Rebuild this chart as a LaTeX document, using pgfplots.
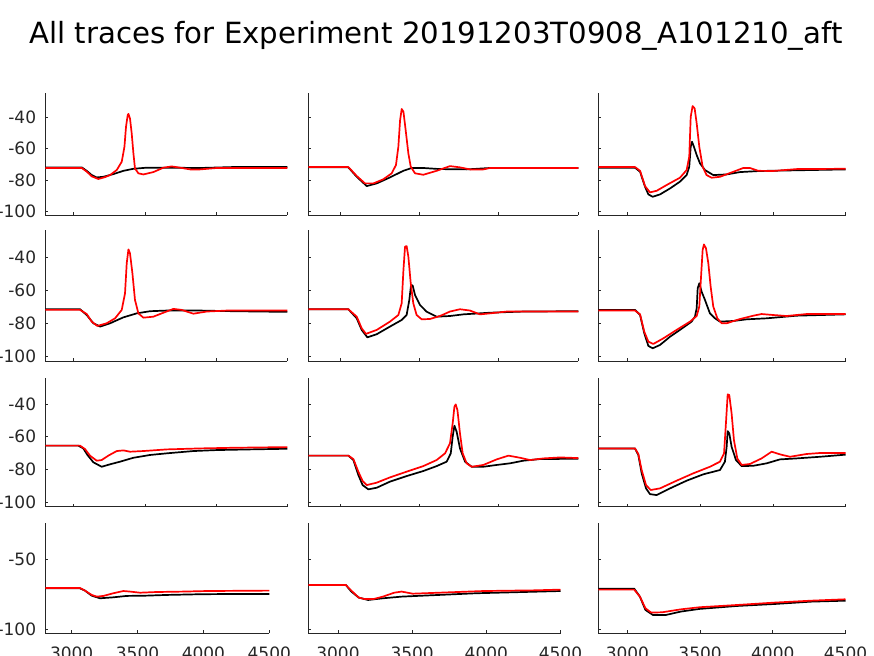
\documentclass[border=0pt]{standalone}
\usepackage{fontspec}
\setmainfont{DejaVu Sans}
\usepackage{pgfplots}
\pgfplotsset{compat=1.18}
\definecolor{axc}{HTML}{262626}
\definecolor{tred}{HTML}{FF0000}
\newcommand{\ticfont}{\fontsize{17bp}{20bp}\selectfont}
\newcommand{\titfont}{\fontsize{29.2bp}{34bp}\selectfont}
\pgfplotsset{
  panel/.style={scale only axis, anchor=south west,
    xmin=2800, xmax=4500,
    axis x line*=bottom, axis y line*=left,
    axis line style={draw=axc, line width=0.8bp},
    tick style={draw=axc, line width=0.8bp},
    major tick length=3bp, tick align=inside,
    xtick={3000,3500,4000,4500}, xticklabels={}, yticklabels={},
    ticklabel style={font=\ticfont, text=axc},
    xticklabel style={anchor=north, inner sep=0pt, yshift=-13.5bp},
    yticklabel style={anchor=east, inner sep=0pt, xshift=-9bp},
  },
  rA/.style={ytick={-100,-80,-60,-40}},
  rB/.style={ytick={-100,-50}},
  ylA/.style={yticklabels={-100,-80,-60,-40}},
  ylB/.style={yticklabels={-100,-50}},
  xl/.style={xticklabels={3000,3500,4000,4500}},
  blk/.style={black, line width=1.7bp, line join=round},
  rd/.style={tred, line width=1.7bp, line join=round},
}
\begin{document}
\begin{tikzpicture}
\path[use as bounding box] (0,0) rectangle (874bp,-656bp);
\node[anchor=base, font=\titfont, text=black] at (436bp,-43.3bp) {All traces for Experiment 20191203T0908\_A101210\_aft};

% ---------------- Row 1 ----------------
\begin{axis}[panel, rA, ylA, at={(45.3bp,-215bp)}, width=242bp, height=121.7bp, ymin=-102.1, ymax=-24.7]
\addplot[blk] coordinates {(2800,-71.8)(3056,-71.8)(3091,-74)(3126,-76.7)(3161,-78.2)(3208,-77.8)(3278,-76.1)(3349,-74)(3419,-72.7)(3513,-72)(3653,-72)(3887,-72.2)(4121,-71.6)(4500,-71.6)};
\addplot[rd] coordinates {(2800,-72.2)(3056,-72.2)(3091,-74.5)(3126,-77.5)(3173,-79.2)(3220,-78)(3255,-76.7)(3302,-73.5)(3337,-68.2)(3356,-58.7)(3367,-46)(3379,-38.5)(3384,-37.8)(3395,-40.7)(3407,-50.2)(3419,-62.9)(3430,-72.5)(3454,-75.6)(3489,-76.3)(3559,-74.8)(3630,-72)(3688,-71.2)(3747,-72)(3817,-73.1)(3887,-73.1)(4004,-72.2)(4500,-72.2)};
\end{axis}
\begin{axis}[panel, rA, at={(308.3bp,-215bp)}, width=270bp, height=121.7bp, ymin=-102.1, ymax=-24.7]
\addplot[blk] coordinates {(2800,-71.8)(3052,-71.8)(3105,-77.8)(3168,-83.7)(3231,-82)(3314,-78.2)(3398,-74)(3451,-72.2)(3524,-72.2)(3629,-72.9)(3797,-73.1)(3944,-72.2)(4500,-72.2)};
\addplot[rd] coordinates {(2800,-71.6)(3052,-71.6)(3105,-77.3)(3157,-82)(3210,-82)(3272,-79.4)(3325,-75.6)(3352,-70.3)(3367,-58.7)(3378,-41.7)(3388,-34.7)(3399,-36.4)(3413,-48.1)(3430,-62.9)(3445,-71.4)(3472,-75.6)(3524,-76.5)(3608,-74)(3692,-71)(3755,-71.8)(3818,-73.1)(3902,-73.1)(3944,-72.2)(4500,-72.2)};
\end{axis}
\begin{axis}[panel, rA, at={(598.3bp,-215bp)}, width=247.4bp, height=121.7bp, ymin=-102.1, ymax=-24.7]
\addplot[blk] coordinates {(2800,-72)(3052,-72)(3087,-74.6)(3121,-84.1)(3144,-89)(3174,-90.5)(3224,-89)(3293,-85.2)(3361,-80.9)(3407,-76.7)(3425,-71.4)(3435,-58.7)(3444,-55.5)(3457,-58.7)(3476,-64)(3499,-69.3)(3533,-73.5)(3590,-76.7)(3682,-76.3)(3774,-74.8)(3911,-74.1)(4500,-73.1)};
\addplot[rd] coordinates {(2800,-71.6)(3052,-71.6)(3087,-74)(3121,-83.7)(3155,-87.7)(3201,-86.7)(3270,-83)(3361,-78.4)(3407,-73.5)(3425,-65)(3435,-39.6)(3448,-32.8)(3462,-34.3)(3476,-43.8)(3494,-58.7)(3517,-71.4)(3544,-76.7)(3579,-78.4)(3636,-77.8)(3728,-74.6)(3796,-72.2)(3842,-72.2)(3899,-74)(4002,-74.1)(4163,-72.9)(4500,-72.7)};
\end{axis}

% ---------------- Row 2 ----------------
\begin{axis}[panel, rA, ylA, at={(45.3bp,-361bp)}, width=242bp, height=131bp, ymin=-102.7, ymax=-23.5]
\addplot[blk] coordinates {(2800,-71.4)(3044,-71.4)(3091,-74.9)(3138,-79.9)(3185,-81.9)(3255,-79.9)(3349,-76.3)(3442,-73.9)(3536,-72.6)(3653,-72.2)(3887,-72.2)(4121,-72.6)(4500,-73)};
\addplot[rd] coordinates {(2800,-71.8)(3044,-71.8)(3091,-74.3)(3126,-78.9)(3166,-81.5)(3231,-79.9)(3290,-76.9)(3337,-71.8)(3360,-61.8)(3372,-43.6)(3384,-35.2)(3395,-37.6)(3412,-49.7)(3430,-65.8)(3454,-73.9)(3489,-76.5)(3559,-75.9)(3630,-73.5)(3700,-71.2)(3758,-71.8)(3840,-74.1)(3934,-72.8)(4075,-72.2)(4500,-72.2)};
\end{axis}
\begin{axis}[panel, rA, at={(308.3bp,-361bp)}, width=270bp, height=131bp, ymin=-102.7, ymax=-23.5]
\addplot[blk] coordinates {(2800,-71.4)(3052,-71.4)(3105,-76.9)(3136,-83.9)(3172,-88.4)(3231,-86.5)(3314,-81.9)(3388,-77.9)(3419,-74.9)(3436,-65.8)(3447,-56.7)(3457,-57.1)(3472,-62.8)(3503,-68.8)(3545,-72.9)(3608,-75.9)(3692,-75.5)(3776,-74.5)(3944,-73.5)(4154,-72.8)(4500,-72.6)};
\addplot[rd] coordinates {(2800,-71.4)(3052,-71.4)(3105,-75.9)(3136,-82.9)(3163,-86.3)(3231,-83.9)(3314,-78.9)(3367,-74.9)(3388,-67.8)(3399,-47.7)(3409,-33.6)(3419,-33.2)(3430,-39.6)(3445,-55.7)(3461,-67.8)(3482,-74.9)(3514,-77.5)(3566,-77.3)(3629,-75.5)(3692,-72.8)(3755,-71.4)(3818,-72.2)(3881,-74.5)(3944,-73.9)(4049,-72.8)(4500,-72.8)};
\end{axis}
\begin{axis}[panel, rA, at={(598.3bp,-361bp)}, width=247.4bp, height=131bp, ymin=-102.7, ymax=-23.5]
\addplot[blk] coordinates {(2800,-71.8)(3052,-71.8)(3087,-74.9)(3116,-86)(3144,-93.6)(3174,-95)(3224,-93)(3293,-88)(3361,-83.9)(3441,-78.9)(3464,-75.9)(3476,-70.8)(3483,-58.7)(3494,-55.7)(3510,-60.8)(3533,-65.8)(3567,-73.9)(3602,-76.9)(3636,-78.9)(3728,-78.5)(3819,-77.5)(3957,-76.9)(4163,-75.3)(4500,-74.5)};
\addplot[rd] coordinates {(2800,-72.2)(3052,-72.2)(3087,-74.5)(3116,-85)(3144,-91)(3178,-92.4)(3247,-89)(3338,-83.9)(3430,-78.9)(3476,-75.5)(3494,-69.8)(3506,-51.7)(3517,-35.6)(3526,-32.2)(3540,-34.6)(3556,-43.6)(3572,-57.7)(3590,-69.8)(3618,-76.9)(3648,-79.9)(3682,-79.9)(3774,-77.3)(3865,-75.3)(3922,-74.3)(4003,-74.9)(4094,-75.5)(4231,-74.3)(4500,-74.3)};
\end{axis}

% ---------------- Row 3 ----------------
\begin{axis}[panel, rA, ylA, at={(45.3bp,-506.7bp)}, width=242bp, height=129bp, ymin=-102.7, ymax=-23.9]
\addplot[blk] coordinates {(2800,-65.4)(3032,-65.4)(3067,-67.1)(3096,-71.1)(3138,-75.6)(3196,-78.3)(3255,-76.8)(3325,-75.2)(3419,-72.8)(3536,-71.1)(3653,-70.1)(3840,-68.7)(4004,-68.1)(4238,-67.7)(4500,-67.3)};
\addplot[rd] coordinates {(2800,-65.4)(3044,-65.4)(3079,-67.5)(3114,-71.5)(3161,-74.6)(3196,-74.2)(3243,-71.5)(3302,-68.7)(3349,-68.3)(3395,-69.1)(3489,-68.7)(3653,-67.7)(3887,-67.1)(4121,-66.7)(4500,-66.3)};
\end{axis}
\begin{axis}[panel, rA, at={(308.3bp,-506.7bp)}, width=270bp, height=129bp, ymin=-102.7, ymax=-23.9]
\addplot[blk] coordinates {(2800,-71.5)(3052,-71.5)(3084,-74.2)(3115,-83.3)(3142,-89.5)(3178,-92.1)(3231,-91.1)(3314,-87.4)(3419,-84)(3524,-80.9)(3608,-77.9)(3671,-75.2)(3697,-70.1)(3709,-59.9)(3720,-53.2)(3734,-56.9)(3755,-67.1)(3787,-75.2)(3829,-78.3)(3902,-78.3)(3986,-77.2)(4070,-76.2)(4154,-74.6)(4259,-73.6)(4500,-73.4)};
\addplot[rd] coordinates {(2800,-71.5)(3052,-71.5)(3084,-73.6)(3115,-81.3)(3142,-87)(3168,-89.5)(3231,-88)(3314,-84.8)(3419,-81.3)(3524,-77.9)(3608,-74.2)(3661,-70.1)(3692,-64)(3709,-51.8)(3720,-41.6)(3728,-40.2)(3739,-43.7)(3755,-57.9)(3772,-70.1)(3797,-76.2)(3829,-78.3)(3902,-77.2)(3986,-73.8)(4060,-71.5)(4133,-72.8)(4196,-74.2)(4280,-73.2)(4385,-72.6)(4500,-73)};
\end{axis}
\begin{axis}[panel, rA, at={(598.3bp,-506.7bp)}, width=247.4bp, height=129bp, ymin=-102.7, ymax=-23.9]
\addplot[blk] coordinates {(2800,-67.1)(3052,-67.1)(3075,-71.1)(3098,-82.3)(3128,-91.5)(3155,-95)(3201,-95.6)(3293,-91.5)(3407,-86.8)(3522,-82.9)(3636,-80.3)(3670,-75.2)(3682,-66.1)(3689,-56.5)(3700,-57.9)(3716,-66.1)(3746,-74.2)(3785,-77.9)(3865,-77.7)(3957,-76.2)(4048,-73.8)(4163,-73.2)(4323,-72.2)(4500,-70.9)};
\addplot[rd] coordinates {(2800,-67.1)(3052,-67.1)(3075,-70.5)(3098,-80.3)(3128,-89.5)(3160,-92.5)(3224,-91.5)(3338,-86.8)(3453,-82.3)(3567,-78.3)(3636,-75.2)(3664,-70.1)(3677,-51.8)(3689,-34.1)(3700,-34.5)(3716,-45.7)(3732,-62)(3755,-73.2)(3785,-77.2)(3842,-76.6)(3922,-73.2)(3991,-69.1)(4048,-70.7)(4117,-72.2)(4232,-70.5)(4323,-69.9)(4500,-69.9)};
\end{axis}

% ---------------- Row 4 ----------------
\begin{axis}[panel, rB, ylB, xl, at={(45.3bp,-633bp)}, width=224bp, height=110bp, ymin=-102.9, ymax=-24.3]
\addplot[blk] coordinates {(2800,-71)(3063,-71)(3101,-72.6)(3152,-76.2)(3215,-78.1)(3316,-77.4)(3418,-76.4)(3569,-76.2)(3721,-75.7)(3974,-75.2)(4227,-75)(4500,-75)};
\addplot[rd] coordinates {(2800,-70.7)(3063,-70.7)(3101,-72.6)(3152,-75.7)(3190,-76.9)(3241,-76.4)(3316,-74.5)(3392,-72.9)(3443,-73.3)(3519,-74.1)(3645,-73.6)(3848,-73.3)(4025,-72.9)(4500,-72.6)};
\end{axis}
\begin{axis}[panel, rB, xl, at={(308.3bp,-633bp)}, width=252.2bp, height=110bp, ymin=-102.9, ymax=-24.3]
\addplot[blk] coordinates {(2800,-68.6)(3053,-68.6)(3090,-73.3)(3140,-77.6)(3203,-79.3)(3303,-78.1)(3429,-76.9)(3680,-75.7)(3930,-74.5)(4181,-73.8)(4500,-72.9)};
\addplot[rd] coordinates {(2800,-68.6)(3053,-68.6)(3090,-72.6)(3140,-77.6)(3178,-78.6)(3241,-78.6)(3303,-76.9)(3379,-74.1)(3429,-73.3)(3504,-74.8)(3680,-74.1)(3980,-72.9)(4331,-72.4)(4500,-71.9)};
\end{axis}
\begin{axis}[panel, rB, xl, at={(598.3bp,-633bp)}, width=247.2bp, height=110bp, ymin=-102.9, ymax=-24.3]
\addplot[blk] coordinates {(2800,-71.2)(3047,-71.2)(3086,-76.9)(3124,-86.4)(3175,-90)(3265,-90)(3367,-87.6)(3495,-85.7)(3751,-83.6)(4007,-82.2)(4262,-80.5)(4500,-79.8)};
\addplot[rd] coordinates {(2800,-71.9)(3047,-71.9)(3086,-76.9)(3124,-85.2)(3163,-88.3)(3239,-88.1)(3367,-86)(3495,-84.5)(3751,-82.9)(4007,-81.2)(4262,-79.8)(4500,-78.8)};
\end{axis}
\end{tikzpicture}
\end{document}
